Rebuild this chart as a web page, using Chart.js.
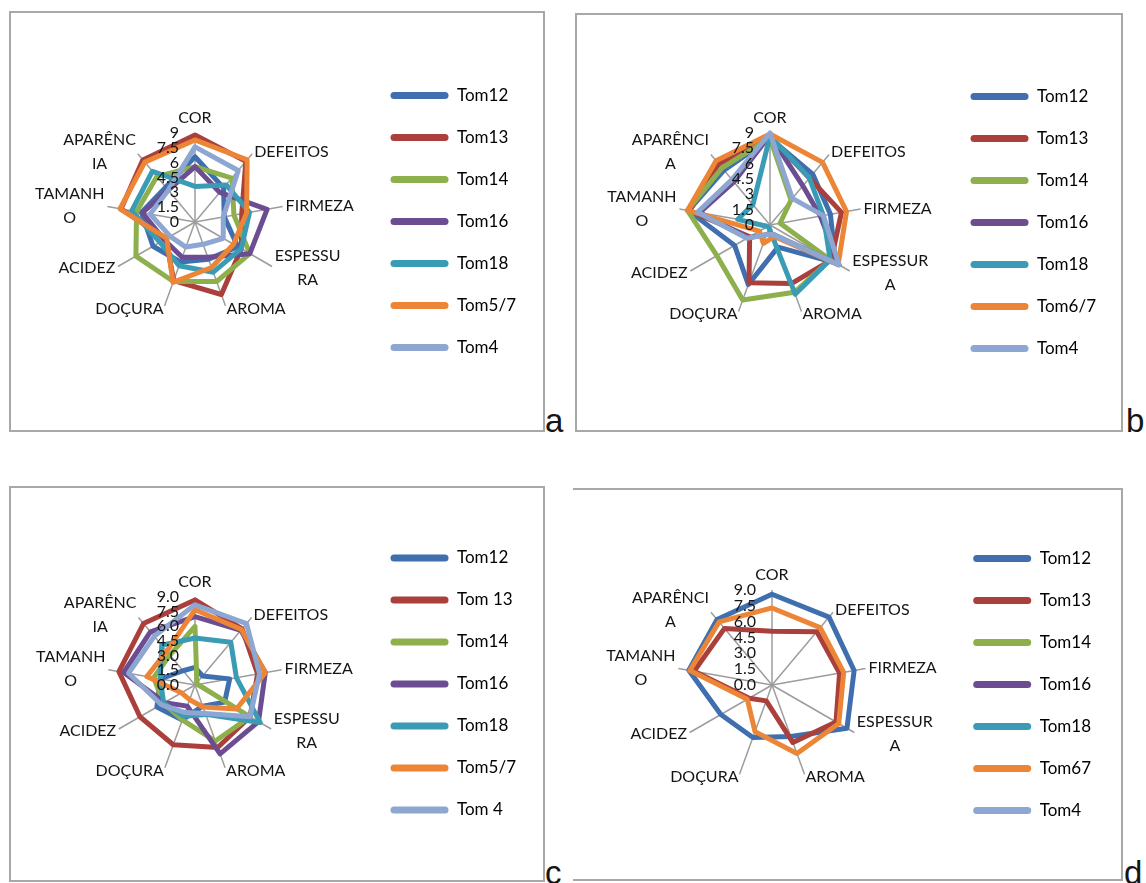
<!DOCTYPE html>
<html>
<head>
<meta charset="utf-8">
<script src="https://cdn.jsdelivr.net/npm/chart.js@4.4.1/dist/chart.umd.min.js"></script>
<style>
  html, body { margin: 0; padding: 0; background: #fff; }
  body { width: 1146px; height: 883px; position: relative; overflow: hidden; font-family: Lato, sans-serif; }
  .box { position: absolute; border: 2px solid #a8a8a8; box-sizing: border-box; }
  .wrap { position: absolute; }
  .tag { position: absolute; font: 33px "Liberation Sans", Arial, sans-serif; line-height: 33px; color: #151515; }
</style>
</head>
<body>
<div class="box" style="left:9px;top:11px;width:536px;height:421px;"></div>
<div class="box" style="left:575px;top:13px;width:548px;height:419px;"></div>
<div class="box" style="left:9px;top:486px;width:536px;height:396px;"></div>
<div class="box" style="left:573px;top:488px;width:550px;height:393px;border-left:none;"></div>

<div class="wrap" style="left:11px;top:13px;"><canvas id="chartA" width="532" height="417"></canvas></div>
<div class="wrap" style="left:577px;top:15px;"><canvas id="chartB" width="544" height="415"></canvas></div>
<div class="wrap" style="left:11px;top:488px;"><canvas id="chartC" width="532" height="392"></canvas></div>
<div class="wrap" style="left:575px;top:490px;"><canvas id="chartD" width="546" height="389"></canvas></div>

<div class="tag" style="left:545px;top:404px;">a</div>
<div class="tag" style="left:1126px;top:404px;">b</div>
<div class="tag" style="left:545px;top:856px;">c</div>
<div class="tag" style="left:1124px;top:856px;">d</div>

<script>
// Sensory attributes, clockwise from the top
const attributesAC = ['COR', 'DEFEITOS', 'FIRMEZA', ['ESPESSU', 'RA'], 'AROMA', 'DOÇURA', 'ACIDEZ', ['TAMANH', 'O'], ['APARÊNC', 'IA']];
const attributesBD = ['COR', 'DEFEITOS', 'FIRMEZA', ['ESPESSUR', 'A'], 'AROMA', 'DOÇURA', 'ACIDEZ', ['TAMANH', 'O'], ['APARÊNCI', 'A']];

// Legend names
const seriesA = ['Tom12', 'Tom13', 'Tom14', 'Tom16', 'Tom18', 'Tom5/7', 'Tom4'];
const seriesB = ['Tom12', 'Tom13', 'Tom14', 'Tom16', 'Tom18', 'Tom6/7', 'Tom4'];
const seriesC = ['Tom12', 'Tom 13', 'Tom14', 'Tom16', 'Tom18', 'Tom5/7', 'Tom 4'];
const seriesD = ['Tom12', 'Tom13', 'Tom14', 'Tom16', 'Tom18', 'Tom67', 'Tom4'];

// Scores (0-9) — panel a
const a_tom12 = [6.6, 4.5, 3.0, 5.0, 4.0, 4.3, 4.9, 5.5, 4.6];
const a_tom13 = [8.8, 8.0, 4.8, 5.4, 7.8, 6.3, 3.4, 7.6, 8.2];
const a_tom14 = [5.6, 5.8, 4.0, 6.4, 6.4, 6.4, 6.9, 6.0, 6.0];
const a_tom16 = [5.6, 3.9, 7.4, 6.4, 3.8, 3.8, 3.6, 5.4, 4.2];
const a_tom18 = [3.6, 4.9, 5.6, 5.4, 5.4, 4.7, 4.1, 6.5, 6.7];
const a_tom57 = [8.3, 8.2, 5.3, 4.5, 4.9, 6.5, 3.3, 7.7, 7.9];
const a_tom4  = [7.6, 6.8, 2.9, 3.3, 2.4, 2.7, 2.9, 4.6, 4.2];

// panel b
const b_tom12 = [8.5, 6.5, 6.0, 7.4, 2.3, 6.2, 4.0, 8.1, 7.0];
const b_tom13 = [8.6, 6.0, 7.1, 6.9, 6.1, 6.0, 2.3, 8.0, 7.8];
const b_tom14 = [8.5, 3.2, 1.0, 6.8, 7.0, 7.8, 6.0, 8.2, 7.3];
const b_tom16 = [8.8, 5.0, 5.0, 7.8, 1.0, 1.0, 2.5, 7.0, 5.5];
const b_tom18 = [8.7, 6.0, 5.3, 6.8, 7.2, 0.3, 0.3, 3.2, 2.6];
const b_tom67 = [8.9, 8.0, 7.6, 7.7, 1.2, 1.9, 1.2, 8.2, 8.2];
const b_tom4  = [9.0, 3.4, 5.3, 7.8, 1.0, 1.0, 2.6, 7.2, 5.8];

// panel c
const c_tom12 = [1.8, 1.2, 3.6, 3.5, 2.3, 3.8, 4.5, 3.6, 1.9];
const c_tom13 = [8.7, 7.5, 6.5, 6.5, 6.8, 6.5, 6.5, 7.9, 8.2];
const c_tom14 = [6.0, 0.3, 0.3, 6.5, 6.1, 3.8, 3.7, 4.3, 4.0];
const c_tom16 = [7.0, 7.3, 7.3, 7.5, 7.5, 2.3, 3.6, 7.4, 7.1];
const c_tom18 = [4.8, 5.7, 4.3, 7.7, 3.2, 3.4, 3.7, 3.6, 5.3];
const c_tom57 = [7.7, 7.4, 7.3, 4.9, 2.4, 1.6, 1.6, 5.0, 4.5];
const c_tom4  = [8.2, 8.2, 6.7, 6.5, 3.1, 3.0, 4.0, 6.9, 6.5];

// panel d (only three cultivars scored)
const d_tom12 = [8.6, 8.4, 7.9, 8.2, 5.2, 5.3, 5.6, 8.0, 8.1];
const d_tom13 = [5.1, 6.6, 6.5, 7.0, 5.8, 1.6, 2.5, 7.5, 7.0];
const d_tom14 = [null, null, null, null, null, null, null, null, null];
const d_tom16 = [null, null, null, null, null, null, null, null, null];
const d_tom18 = [null, null, null, null, null, null, null, null, null];
const d_tom67 = [7.3, 7.1, 6.9, 7.3, 6.9, 4.7, 2.7, 7.9, 7.8];
const d_tom4  = [null, null, null, null, null, null, null, null, null];

// Score axis
const scoreMin = 0;
const scoreMax = 9;
const scoreStep = 1.5;

const palette = ['#3F6FAE', '#AA3F3C', '#8DB04D', '#6C4D92', '#3A9CB4', '#EC8536', '#8EA6D2'];
const FONT = 'Lato, "Open Sans", sans-serif';
const INK = '#141414';
const LABEL_SIZE = 16;
const LABEL_LINE = 24;

// Score labels drawn just left of the COR spoke, on top of the lines
const scoreLabels = {
  id: 'scoreLabels',
  afterDatasetsDraw(chart, args, opts) {
    const s = chart.scales.r;
    const ctx = chart.ctx;
    ctx.save();
    ctx.font = '16px ' + FONT;
    ctx.fillStyle = INK;
    ctx.textAlign = 'right';
    ctx.textBaseline = 'middle';
    s.ticks.forEach(t => {
      const p = s.getPointPositionForValue(0, t.value);
      ctx.fillText(opts.format(t.value), p.x - opts.gap, p.y);
    });
    ctx.restore();
  }
};

// Attribute names sit at the end of each spoke, vertically centred on it
// (the top one sits above), with wrapped lines centred on each other.
function placeAttributeNames(scale) {
  const ctx = scale.ctx;
  const n = scale._pointLabels.length;
  ctx.save();
  ctx.font = LABEL_SIZE + 'px ' + FONT;
  scale._pointLabelItems = scale._pointLabels.map((lbl, i) => {
    const lines = Array.isArray(lbl) ? lbl : [lbl];
    const w = Math.max(...lines.map(l => ctx.measureText(l).width));
    const h = lines.length * LABEL_LINE;
    const deg = i * 360 / n;
    const p = scale.getPointPosition(i, scale.drawingArea + 3);
    let cx, top;
    if (deg === 0) { cx = p.x; top = p.y - h; }
    else if (deg < 180) { cx = p.x + w / 2; top = p.y - h / 2; }
    else { cx = p.x - w / 2; top = p.y - h / 2; }
    return { x: cx, y: top, textAlign: 'center', left: cx - w / 2, right: cx + w / 2, top, bottom: top + h, visible: true };
  });
  ctx.restore();
}

// web: centre (cx, cy) and radius in canvas pixels
function radarPanel(id, attributes, names, rows, format, padRight, web) {
  const datasets = rows.map((row, i) => ({
    label: names[i],
    data: row,
    borderColor: palette[i],
    backgroundColor: palette[i],
    borderWidth: 5,
    borderJoinStyle: 'round',
    pointRadius: 0,
    fill: false,
    spanGaps: false,
    order: -i
  }));
  return new Chart(document.getElementById(id), {
    type: 'radar',
    data: { labels: attributes, datasets },
    plugins: [scoreLabels],
    options: {
      responsive: false,
      animation: false,
      layout: { padding: { left: 0, right: padRight, top: 0, bottom: 0 } },
      plugins: {
        tooltip: { enabled: false },
        scoreLabels: { format, gap: 16 },
        legend: {
          position: 'right',
          labels: {
            boxWidth: 58,
            boxHeight: 7,
            padding: 25,
            color: INK,
            font: { family: FONT, size: 17 },
            useBorderRadius: true,
            borderRadius: 3.5,
            generateLabels(chart) {
              return chart.data.datasets.map((d, i) => ({
                text: d.label,
                fillStyle: d.borderColor,
                strokeStyle: d.borderColor,
                lineWidth: 0,
                hidden: false,
                datasetIndex: i,
                borderRadius: 3.5
              }));
            }
          }
        }
      },
      scales: {
        r: {
          min: scoreMin,
          max: scoreMax,
          afterSetDimensions(scale) {
            scale.xCenter = web.cx;
            scale.yCenter = web.cy;
            scale.drawingArea = web.r;
          },
          afterFit: placeAttributeNames,
          ticks: { display: false, stepSize: scoreStep },
          grid: { display: false },
          angleLines: { color: '#9d9d9d', lineWidth: 1.5 },
          pointLabels: {
            color: INK,
            font: { family: FONT, size: LABEL_SIZE, lineHeight: LABEL_LINE / LABEL_SIZE },
            padding: 4
          }
        }
      }
    }
  });
}

const plain = v => String(+v.toFixed(1));
const oneDecimal = v => v.toFixed(1);

radarPanel('chartA', attributesAC, seriesA,
  [a_tom12, a_tom13, a_tom14, a_tom16, a_tom18, a_tom57, a_tom4], plain,
  17, { cx: 184, cy: 209, r: 89 });
radarPanel('chartB', attributesBD, seriesB,
  [b_tom12, b_tom13, b_tom14, b_tom16, b_tom18, b_tom67, b_tom4], plain,
  15, { cx: 193, cy: 210, r: 92 });
radarPanel('chartC', attributesAC, seriesC,
  [c_tom12, c_tom13, c_tom14, c_tom16, c_tom18, c_tom57, c_tom4], oneDecimal,
  17, { cx: 184, cy: 197, r: 88 });
radarPanel('chartD', attributesBD, seriesD,
  [d_tom12, d_tom13, d_tom14, d_tom16, d_tom18, d_tom67, d_tom4], oneDecimal,
  20, { cx: 197, cy: 195, r: 95 });
</script>
</body>
</html>
